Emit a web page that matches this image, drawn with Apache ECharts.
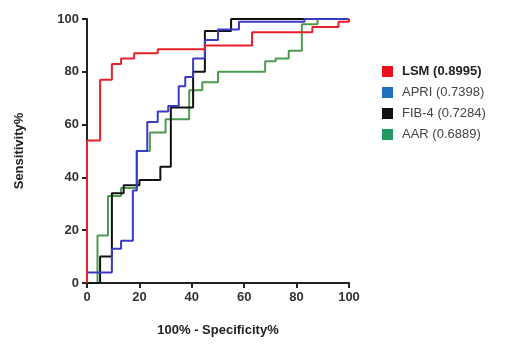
<!DOCTYPE html>
<html>
<head>
<meta charset="utf-8">
<script src="https://cdn.jsdelivr.net/npm/echarts@6/dist/echarts.min.js"></script>
<style>html,body{margin:0;padding:0;background:#fff}#c{width:526px;height:346px}</style>
</head>
<body>
<div id="c"></div>
<script>
// Tick labels
const xTicks = [0, 20, 40, 60, 80, 100];
const yTicks = [0, 20, 40, 60, 80, 100];
// Series names
const names = ['LSM (0.8995)', 'APRI (0.7398)', 'FIB-4 (0.7284)', 'AAR (0.6889)'];
// ROC step corners: 100% - specificity (x) and sensitivity (y)
const lsmX = [0,0,5,5,9.5,9.5,13,13,18,18,27,27,45,45,63,63,86,86,96,96,100,100];
const lsmY = [0,54,54,77,77,83,83,85,85,87,87,88.5,88.5,90,90,95,95,97,97,99,99,100];
const apriX = [0,0,9.5,9.5,13,13,17.5,17.5,19,19,23,23,27,27,31,31,35,35,37.5,37.5,40.5,40.5,45,45,50,50,58,58,83,83,100];
const apriY = [0,4,4,13,13,16,16,35,35,50,50,61,61,65,65,67,67,74.5,74.5,78,78,85,85,92,92,96,96,99,99,100,100];
const fibX = [0,5,5,9.5,9.5,14,14,20,20,28,28,32,32,40.5,40.5,45,45,55,55,100];
const fibY = [0,0,10,10,34,34,37,37,39,39,44,44,66.5,66.5,80,80,95.5,95.5,100,100];
const aarX = [0,4,4,8,8,13,13,19,19,24,24,30,30,39,39,44,44,50,50,68,68,72,72,77,77,82,82,88,88,100];
const aarY = [0,0,18,18,33,33,36,36,50,50,57,57,62,62,73,73,76,76,80,80,84,84,85,85,88,88,98,98,100,100];

const pairs = (xs, ys) => xs.map((x, i) => [x, ys[i]]);
const lineColors = ['#e8202a', '#3a3ac8', '#111111', '#4f9a4f'];
const iconColors = ['#e8101c', '#1f6fbf', '#111111', '#1f9a60'];
const dataSets = [pairs(lsmX, lsmY), pairs(apriX, apriY), pairs(fibX, fibY), pairs(aarX, aarY)];
const drawOrder = [3, 2, 1, 0];

const chart = echarts.init(document.getElementById('c'), null, {renderer: 'canvas'});
const axisFont = {fontFamily: 'Liberation Sans, Arial, sans-serif', fontWeight: 'bold', fontSize: 13, color: '#333'};
chart.setOption({
  animation: false,
  grid: {left: 87, top: 19, right: 177, bottom: 63, containLabel: false},
  xAxis: {
    type: 'value', min: 0, max: 100, interval: 20,
    name: '100% - Specificity%', nameLocation: 'middle', nameGap: 41,
    nameTextStyle: Object.assign({}, axisFont, {fontSize: 13, color: '#222'}),
    axisLine: {show: true, lineStyle: {color: '#222', width: 2}},
    axisTick: {show: true, length: 5, lineStyle: {color: '#222', width: 2}},
    axisLabel: Object.assign({}, axisFont, {margin: 8, formatter: v => xTicks.includes(v) ? String(v) : ''}),
    splitLine: {show: false}
  },
  yAxis: {
    type: 'value', min: 0, max: 100, interval: 20,
    name: 'Sensitivity%', nameLocation: 'middle', nameGap: 61, nameRotate: 90,
    nameTextStyle: Object.assign({}, axisFont, {fontSize: 13, color: '#222'}),
    axisLine: {show: true, lineStyle: {color: '#222', width: 2}},
    axisTick: {show: true, length: 5, lineStyle: {color: '#222', width: 2}},
    axisLabel: Object.assign({}, axisFont, {margin: 8, formatter: v => yTicks.includes(v) ? String(v) : ''}),
    splitLine: {show: false}
  },
  legend: {
    orient: 'vertical', left: 377, top: 59, itemWidth: 11, itemHeight: 11, itemGap: 6,
    icon: 'rect',
    textStyle: {fontFamily: 'Liberation Sans, Arial, sans-serif', fontSize: 13, color: '#444', lineHeight: 15, padding: [0,0,0,4]},
    data: names.map((n, i) => ({
      name: n,
      itemStyle: {color: iconColors[i]},
      textStyle: i === 0 ? {fontWeight: 'bold', color: '#222'} : {}
    }))
  },
  series: drawOrder.map(i => ({
    name: names[i], type: 'line', data: dataSets[i], showSymbol: false, symbol: 'none',
    lineStyle: {color: lineColors[i], width: 2}, itemStyle: {color: lineColors[i]},
    clip: false
  }))
});
</script>
</body>
</html>
